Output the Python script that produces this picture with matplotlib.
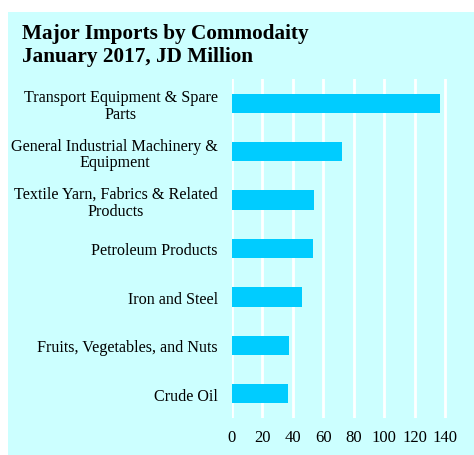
import matplotlib.pyplot as plt
from matplotlib.patches import Rectangle

categories = ['Transport Equipment & Spare\nParts',
              'General Industrial Machinery &\nEquipment',
              'Textile Yarn, Fabrics & Related\nProducts',
              'Petroleum Products',
              'Iron and Steel',
              'Fruits, Vegetables, and Nuts',
              'Crude Oil']
values = [136.4, 72.5, 53.8, 53.1, 46.1, 37.6, 36.9]
xticks = [0, 20, 40, 60, 80, 100, 120, 140]

plt.rcParams['font.family'] = ['Liberation Serif', 'DejaVu Serif']

W, H = 474, 456
fig = plt.figure(figsize=(W / 100, H / 100), dpi=100)
fig.patch.set_facecolor('white')
# cyan panel behind everything
fig.patches.append(Rectangle((8 / W, 0), 1 - 8 / W, 1 - 13 / H,
                             transform=fig.transFigure, facecolor='#ccffff',
                             edgecolor='none', zorder=-10))

ax = fig.add_axes([231.7 / W, 1 - 419 / H, (460.5 - 231.7) / W, (419 - 80) / H])
ax.set_zorder(5)
ax.set_facecolor('#ccffff')

ypos = list(range(len(categories)))
ax.barh(ypos, values, height=0.4, color='#00ccff', zorder=3)
ax.set_ylim(len(categories) - 0.5, -0.5)
ax.set_xlim(0, 150)
ax.set_yticks(ypos)
ax.set_yticklabels(categories, fontsize=11.6, ha='right', multialignment='center',
                   linespacing=1.05)
ax.set_xticks(xticks)
ax.tick_params(axis='x', labelsize=12, length=0, pad=8)
ax.tick_params(axis='y', length=0, pad=10)
ax.grid(axis='x', color='white', linewidth=2, zorder=1)
ax.set_axisbelow(True)
for s in ax.spines.values():
    s.set_visible(False)

fig.text(22 / W, 1 - 24 / H, 'Major Imports by Commodaity\nJanuary 2017, JD Million',
         fontsize=15.3, fontweight='bold', va='top', ha='left', linespacing=1.22)

plt.savefig('out.png', dpi=100)
